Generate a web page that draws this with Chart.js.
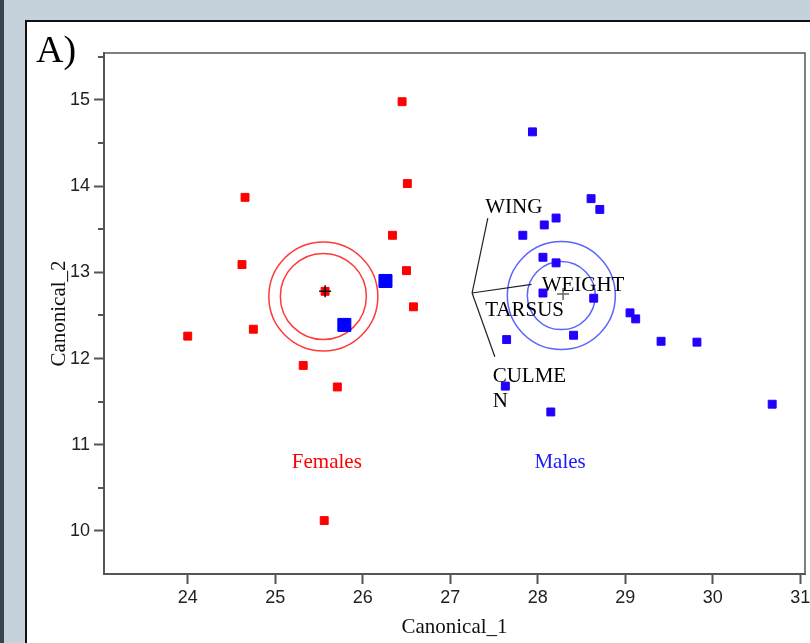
<!DOCTYPE html>
<html>
<head>
<meta charset="utf-8">
<script src="https://cdn.jsdelivr.net/npm/chart.js@4"></script>
<style>
  html, body { margin: 0; padding: 0; background: #c6d2db; overflow: hidden; }
  canvas { display: block; }
</style>
</head>
<body>
<canvas id="myChart" width="810" height="643"></canvas>
<script>
// Canonical scores, females
let femaleX = [26.45, 26.51, 24.655, 26.34, 24.62, 26.50, 25.57, 26.58, 24.75, 24.00, 25.32, 25.71, 25.56];
let femaleY = [14.98, 14.03, 13.87, 13.43, 13.09, 13.02, 12.78, 12.60, 12.34, 12.26, 11.92, 11.67, 10.12];

// Canonical scores, males
let maleX = [27.94, 28.61, 28.71, 28.21, 28.075, 27.83, 28.06, 28.21, 28.06, 28.64, 29.055, 29.12, 27.645, 28.41, 29.41, 29.82, 27.63, 28.15, 30.68];
let maleY = [14.63, 13.855, 13.73, 13.63, 13.55, 13.43, 13.175, 13.11, 12.76, 12.70, 12.53, 12.46, 12.22, 12.27, 12.20, 12.19, 11.68, 11.38, 11.47];

// Males falling among the females (drawn larger)
let outlierX = [26.26, 25.79];
let outlierY = [12.90, 12.39];

// Group means (crosses) and confidence circle centres
let meanX = [25.57, 28.29];
let meanY = [12.78, 12.75];
let circleX = [25.55, 28.27];
let circleY = [12.72, 12.73];

// Variable vectors
let vectorOrigin = [27.25, 12.76];
let vectorNames = ['WING', 'WEIGHT', 'CULMEN'];
let vectorEndX = [27.43, 27.93, 27.51];
let vectorEndY = [13.63, 12.86, 12.02];

// Tick values
let xTicks = [24, 25, 26, 27, 28, 29, 30, 31];
let yTicks = [10, 10.5, 11, 11.5, 12, 12.5, 13, 13.5, 14, 14.5, 15, 15.5];

// Text placed on the plot (data coordinates)
let textItems = [
  { text: 'WING', x: 27.40, y: 13.69, color: '#000', align: 'left' },
  { text: 'WEIGHT', x: 28.045, y: 12.78, color: '#000', align: 'left' },
  { text: 'TARSUS', x: 27.40, y: 12.49, color: '#000', align: 'left' },
  { text: 'CULME', x: 27.485, y: 11.73, color: '#000', align: 'left' },
  { text: 'N', x: 27.485, y: 11.44, color: '#000', align: 'left' },
  { text: 'Females', x: 25.59, y: 10.73, color: '#ff0000', align: 'center' },
  { text: 'Males', x: 28.256, y: 10.73, color: '#1a1aff', align: 'center' }
];

const serif = '"Liberation Serif", "DejaVu Serif", serif';
const sans = '"Liberation Sans", Arial, sans-serif';

function pts(xs, ys) {
  return xs.map((x, i) => ({ x: x, y: ys[i] }));
}

let vectorSets = vectorNames.map((name, i) => ({
  label: name,
  type: 'scatter',
  showLine: true,
  data: [{ x: vectorOrigin[0], y: vectorOrigin[1] }, { x: vectorEndX[i], y: vectorEndY[i] }],
  borderColor: '#222',
  borderWidth: 1.2,
  pointRadius: 0,
  order: 3
}));

const decor = {
  id: 'decor',
  beforeDraw(chart) {
    const c = chart.ctx;
    c.save();
    c.fillStyle = '#c6d2db';
    c.fillRect(0, 0, chart.width, chart.height);
    c.fillStyle = '#3b444c';
    c.fillRect(0, 0, 4, chart.height);
    c.fillStyle = '#111';
    c.fillRect(25, 20, chart.width, chart.height);
    c.fillStyle = '#fff';
    c.fillRect(27, 22, chart.width, chart.height);
    c.fillStyle = '#000';
    c.font = '38px ' + serif;
    c.textBaseline = 'alphabetic';
    c.fillText('A)', 36, 62);
    c.restore();
  },
  afterDraw(chart) {
    const c = chart.ctx;
    const a = chart.chartArea;
    const xs = chart.scales.x, ys = chart.scales.y;
    c.save();
    // frame top and right
    c.strokeStyle = '#555';
    c.lineWidth = 1.5;
    c.beginPath();
    c.moveTo(a.left, a.top);
    c.lineTo(a.right, a.top);
    c.lineTo(a.right, a.bottom);
    c.stroke();
    // minor y ticks
    c.lineWidth = 2;
    yTicks.forEach(v => {
      if (v % 1 !== 0) {
        const py = Math.round(ys.getPixelForValue(v));
        c.beginPath();
        c.moveTo(a.left - 6, py);
        c.lineTo(a.left, py);
        c.stroke();
      }
    });
    // labels
    c.font = '21px ' + serif;
    c.textBaseline = 'alphabetic';
    textItems.forEach(t => {
      c.fillStyle = t.color;
      c.textAlign = t.align;
      c.fillText(t.text, xs.getPixelForValue(t.x), ys.getPixelForValue(t.y));
    });
    c.restore();
  }
};

const data = {
  datasets: [
    {
      label: 'Females',
      data: pts(femaleX, femaleY),
      pointStyle: 'rect',
      pointRadius: 5.6,
      backgroundColor: '#ff0000',
      borderColor: '#ff0000',
      borderWidth: 1,
      order: 2
    },
    {
      label: 'Males',
      data: pts(maleX, maleY),
      pointStyle: 'rect',
      pointRadius: 5.6,
      backgroundColor: '#2200ff',
      borderColor: '#2200ff',
      borderWidth: 1,
      order: 2
    },
    {
      label: 'Males (outliers)',
      data: pts(outlierX, outlierY),
      pointStyle: 'rect',
      pointRadius: 9.2,
      backgroundColor: '#0000ff',
      borderColor: '#0000ff',
      borderWidth: 1,
      order: 1
    },
    {
      label: 'Means',
      data: pts(meanX, meanY),
      pointStyle: 'cross',
      pointRadius: 6,
      borderColor: ['#111', '#666'],
      borderWidth: 1.5,
      order: 0
    },
    {
      label: 'Outer circles',
      data: pts(circleX, circleY),
      pointStyle: 'circle',
      pointRadius: [54.5, 54],
      backgroundColor: 'rgba(0,0,0,0)',
      borderColor: ['#ff3a3a', '#5a64ff'],
      borderWidth: 1.5,
      order: 4
    },
    {
      label: 'Inner circles',
      data: pts(circleX, circleY),
      pointStyle: 'circle',
      pointRadius: [43, 34],
      backgroundColor: 'rgba(0,0,0,0)',
      borderColor: ['#ff3a3a', '#5a64ff'],
      borderWidth: 1.5,
      order: 4
    }
  ].concat(vectorSets)
};

const config = {
  type: 'scatter',
  data: data,
  options: {
    responsive: false,
    animation: false,
    layout: { autoPadding: false, padding: { top: 53, right: 5, left: 0, bottom: 0 } },
    plugins: {
      legend: { display: false },
      tooltip: { enabled: false }
    },
    scales: {
      x: {
        type: 'linear',
        min: 23.043,
        max: 31.055,
        afterBuildTicks: s => { s.ticks = xTicks.map(v => ({ value: v })); },
        afterFit: s => { s.height = 69; s.paddingLeft = 0; s.paddingRight = 0; },
        border: { color: '#555', width: 2 },
        grid: { drawOnChartArea: false, tickLength: 10, tickColor: '#555', tickWidth: 2 },
        ticks: { color: '#222', padding: 3, maxRotation: 0, font: { family: sans, size: 18 } },
        title: {
          display: true,
          text: 'Canonical_1',
          color: '#111',
          font: { family: serif, size: 21 },
          padding: { top: 0, bottom: 3 }
        }
      },
      y: {
        type: 'linear',
        min: 9.5,
        max: 15.545,
        afterBuildTicks: s => { s.ticks = yTicks.map(v => ({ value: v })); },
        afterFit: s => { s.width = 104; s.paddingTop = 0; s.paddingBottom = 0; },
        border: { color: '#555', width: 2 },
        grid: {
          drawOnChartArea: false,
          tickLength: 10,
          tickWidth: 2,
          tickColor: ctx => (ctx.tick && ctx.tick.value % 1 === 0) ? '#555' : 'rgba(0,0,0,0)'
        },
        ticks: {
          color: '#222',
          padding: 4,
          font: { family: sans, size: 18 },
          callback: v => (v % 1 === 0 ? String(v) : '')
        },
        title: {
          display: true,
          text: 'Canonical_2',
          color: '#111',
          font: { family: serif, size: 21 },
          padding: { top: 47, bottom: 0 }
        }
      }
    }
  },
  plugins: [decor]
};

const theChart = new Chart(document.getElementById('myChart').getContext('2d'), config);
</script>
</body>
</html>
